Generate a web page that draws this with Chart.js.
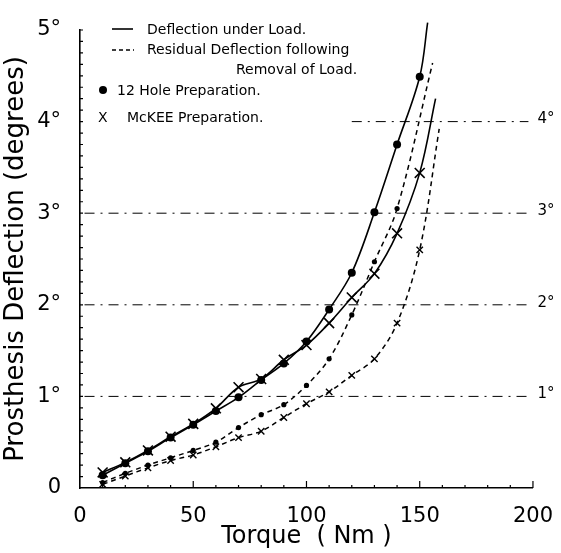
<!DOCTYPE html>
<html>
<head>
<meta charset="utf-8">
<script src="https://cdn.jsdelivr.net/npm/chart.js@4.4.1/dist/chart.umd.min.js"></script>
<style>
  body { margin: 0; background: #fff; }
  #wrap { width: 561px; height: 553px; position: relative; }
</style>
</head>
<body>
<div id="wrap"><canvas id="myChart"></canvas></div>
<script>
// torque steps (Nm) where readings were taken
var torque = [10, 20, 30, 40, 50, 60, 70, 80, 90, 100, 110, 120, 130, 140, 150];

// deflection under load (degrees)
var holeLoad  = [0.14, 0.27, 0.40, 0.55, 0.69, 0.84, 0.99, 1.18, 1.36, 1.60, 1.95, 2.35, 3.01, 3.75, 4.49];
var mckeeLoad = [0.17, 0.28, 0.41, 0.56, 0.70, 0.87, 1.10, 1.19, 1.40, 1.56, 1.80, 2.08, 2.34, 2.78, 3.44];

// residual deflection after removal of load (degrees)
var holeResid  = [0.06, 0.16, 0.25, 0.33, 0.41, 0.50, 0.66, 0.80, 0.91, 1.12, 1.41, 1.89, 2.47, 3.05];
var mckeeResid = [0.04, 0.13, 0.22, 0.30, 0.36, 0.45, 0.55, 0.62, 0.77, 0.92, 1.05, 1.23, 1.41, 1.80, 2.60];

// where each drawn curve ends (beyond its last marker)
var tipTorque     = [153.5, 157, 155.7, 158.6];
var tipDeflection = [5.08, 4.25, 4.64, 3.92];

// dash-dot reference levels
var refLevels = [1, 2, 3, 4];
var refStart  = [2, 2, 2, 120];
var refEnd    = 198;
var refLabels = ['1°', '2°', '3°', '4°'];

var FONT = "'DejaVu Sans', sans-serif";

function curve(vals, tip) {
  var pts = vals.map(function (v, i) { return {x: torque[i], y: v}; });
  pts.push({x: tipTorque[tip], y: tipDeflection[tip]});
  return pts;
}

function lastHidden(r) {
  return function (ctx) {
    return ctx.dataIndex === ctx.dataset.data.length - 1 ? 0 : r;
  };
}

var datasets = [
  {
    label: '12 Hole load', data: curve(holeLoad, 0),
    borderColor: '#000', backgroundColor: '#000', borderWidth: 1.6,
    pointStyle: 'circle', pointRadius: lastHidden(4), pointBorderWidth: 0
  },
  {
    label: 'McKEE load', data: curve(mckeeLoad, 1),
    borderColor: '#000', backgroundColor: '#000', borderWidth: 1.6,
    pointStyle: 'crossRot', pointRadius: lastHidden(7), pointBorderWidth: 1.6
  },
  {
    label: '12 Hole residual', data: curve(holeResid, 2),
    borderColor: '#000', backgroundColor: '#000', borderWidth: 1.5, borderDash: [5, 4],
    pointStyle: 'circle', pointRadius: lastHidden(2.6), pointBorderWidth: 0
  },
  {
    label: 'McKEE residual', data: curve(mckeeResid, 3),
    borderColor: '#000', backgroundColor: '#000', borderWidth: 1.5, borderDash: [5, 4],
    pointStyle: 'crossRot', pointRadius: lastHidden(4.5), pointBorderWidth: 1.4
  }
];

refLevels.forEach(function (lv, i) {
  datasets.push({
    label: 'ref ' + lv,
    data: [{x: refStart[i], y: lv}, {x: refEnd, y: lv}],
    borderColor: '#000', borderWidth: 1, borderDash: [10, 6, 2, 6],
    pointRadius: 0, tension: 0
  });
});

// inward minor ticks, right-hand level labels and the hand-set legend
var decorations = {
  id: 'decorations',
  afterDraw: function (chart) {
    var c = chart.ctx, xs = chart.scales.x, ys = chart.scales.y;
    var x0 = xs.getPixelForValue(0), y0 = ys.getPixelForValue(0);
    c.save();
    c.strokeStyle = '#000';
    c.lineWidth = 1.2;
    c.beginPath();
    for (var t = 10; t <= 200; t += 10) {
      var px = xs.getPixelForValue(t);
      var len = (t % 50 === 0) ? 7 : 3;
      c.moveTo(px, y0);
      c.lineTo(px, y0 - len);
    }
    for (var d = 0.125; d <= 5; d += 0.125) {
      var py = ys.getPixelForValue(d);
      c.moveTo(x0, py);
      c.lineTo(x0 + 3, py);
    }
    c.stroke();

    c.fillStyle = '#000';
    c.font = '15px ' + FONT;
    c.textBaseline = 'middle';
    c.textAlign = 'left';
    refLevels.forEach(function (lv, i) {
      c.fillText(refLabels[i], xs.getPixelForValue(refEnd) + 9, ys.getPixelForValue(lv) - 2);
    });

    // legend
    c.font = '14px ' + FONT;
    c.lineWidth = 1.6;
    c.beginPath();
    c.moveTo(112, 29); c.lineTo(133, 29);
    c.stroke();
    c.fillText('Deflection under Load.', 147, 30);
    c.setLineDash([4, 3]);
    c.beginPath();
    c.moveTo(112, 50); c.lineTo(134, 50);
    c.stroke();
    c.setLineDash([]);
    c.fillText('Residual Deflection following', 147, 50);
    c.fillText('Removal of Load.', 236, 70);
    c.beginPath();
    c.arc(103, 90, 4, 0, Math.PI * 2);
    c.fill();
    c.fillText('12 Hole Preparation.', 117, 91);
    c.fillText('X', 98, 118);
    c.fillText('McKEE Preparation.', 127, 118);
    c.restore();
  }
};

var ctx = document.getElementById('myChart').getContext('2d');
var GlobalChart = new Chart(ctx, {
  type: 'line',
  data: {datasets: datasets},
  plugins: [decorations],
  options: {
    responsive: true,
    maintainAspectRatio: false,
    animation: false,
    layout: {padding: {top: 30, right: 21, bottom: 0, left: 0}},
    elements: {line: {tension: 0.35}},
    datasets: {line: {clip: false}},
    plugins: {legend: {display: false}, tooltip: {enabled: false}},
    scales: {
      x: {
        type: 'linear', min: 0, max: 200,
        grid: {display: false},
        border: {display: true, color: '#000', width: 1.6},
        ticks: {stepSize: 50, color: '#000', padding: 8, font: {family: FONT, size: 21}, maxRotation: 0},
        title: {display: true, text: 'Torque  ( Nm )', color: '#000', font: {family: FONT, size: 24}, padding: {top: 0, bottom: 2}},
        afterFit: function (scale) { scale.height = 65; }
      },
      y: {
        type: 'linear', min: 0, max: 5,
        grid: {display: false},
        border: {display: true, color: '#000', width: 1.6},
        ticks: {
          stepSize: 1, color: '#000', padding: 11, font: {family: FONT, size: 21},
          callback: function (v) { return v === 0 ? '0' : v + '°'; }
        },
        title: {display: true, text: 'Prosthesis Deflection (degrees)', color: '#000', font: {family: FONT, size: 26}, padding: {top: 1, bottom: 0}},
        afterFit: function (scale) { scale.width = 80; }
      }
    }
  }
});
</script>
</body>
</html>
